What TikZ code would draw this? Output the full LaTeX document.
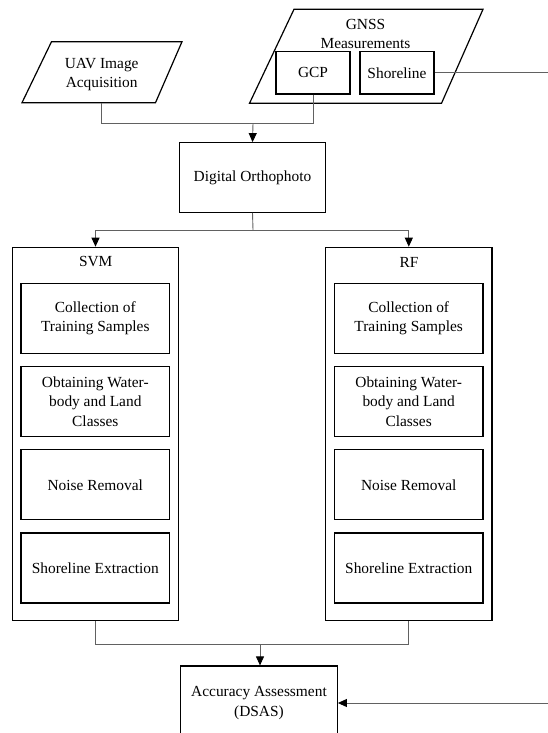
\documentclass[tikz,border=0pt]{standalone}
\usepackage{fontspec}
\setmainfont{Liberation Serif}
\usetikzlibrary{arrows.meta}

\tikzset{
  txt/.style={align=center, inner sep=0pt, font=\fontsize{15.4}{19.3}\selectfont},
  box/.style={txt, draw, line width=1.2pt},
  frame/.style={draw, line width=1.2pt},
  conn/.style={draw=black!62, line width=0.9pt},
  arr/.style={conn, -{Triangle[width=8pt,length=9pt,color=black]}},
}

\begin{document}
\begin{tikzpicture}[x=1pt,y=-1pt]
  \useasboundingbox (0,0) rectangle (547,733);

  % input parallelograms
  \draw[frame] (51.5,41.7) -- (182,41.7) -- (155.5,102.7) -- (22,102.7) -- cycle;
  \node[txt, minimum width=130pt, minimum height=56.4pt] (uav) at (101.7,74.5)
    {UAV Image\\Acquisition};

  \draw[frame] (294,9.3) -- (483,9.3) -- (441.5,103.3) -- (249.5,103.3) -- cycle;
  \node[txt] (gnss) at (365.5,33.8) {GNSS\\Measurements};
  \node[box, minimum width=74pt, minimum height=42.3pt] (gcp) at (313,72.8) {GCP};
  \node[box, minimum width=74pt, minimum height=42.3pt] (shore) at (397,72.8) {Shoreline};

  % orthophoto
  \node[box, minimum width=146.7pt, minimum height=69.6pt] (do) at (252.5,177.5)
    {Digital Orthophoto};

  % classifier columns
  \node[frame, minimum width=165.6pt, minimum height=373.4pt] (svm) at (95.5,434) {};
  \node[frame, minimum width=166.3pt, minimum height=373.4pt] (rf) at (408.8,434) {};
  \node[txt] (svmt) at (95.7,262) {SVM};
  \node[txt] (rft) at (409,262) {RF};

  \foreach \cx/\p in {95.3/s, 408.7/r} {
    \node[box, minimum width=148.7pt, minimum height=70.4pt] (\p1) at (\cx,318.5)
      {Collection of\\Training Samples};
    \node[box, minimum width=148.7pt, minimum height=70pt] (\p2) at (\cx,401.7)
      {Obtaining Water-\\body and Land\\Classes};
    \node[box, minimum width=148.7pt, minimum height=70pt] (\p3) at (\cx,484.85)
      {Noise Removal};
    \node[box, minimum width=148.7pt, minimum height=70pt] (\p4) at (\cx,568)
      {Shoreline Extraction};
  }

  % assessment
  \node[box, minimum width=156.6pt, minimum height=74pt] (acc) at (259,703)
    {Accuracy Assessment\\(DSAS)};

  % connectors
  \coordinate (j1) at (253,123.3);
  \draw[conn] (uav.south) |- (j1);
  \draw[conn] (gcp.south) |- (j1);
  \draw[arr] (j1) -- (do.north);

  \coordinate (j2) at (253,230);
  \draw[conn] (do.south) -- (j2);
  \draw[arr] (j2) -| (svm.north);
  \draw[arr] (j2) -| (rf.north);

  \coordinate (j3) at (260,644.3);
  \draw[conn] (svm.south) |- (j3);
  \draw[conn] (rf.south) |- (j3);
  \draw[arr] (j3) -- (j3 |- acc.north);

  \draw[arr] (shore.east) -- (600,72.8) |- (acc.east);
\end{tikzpicture}
\end{document}
